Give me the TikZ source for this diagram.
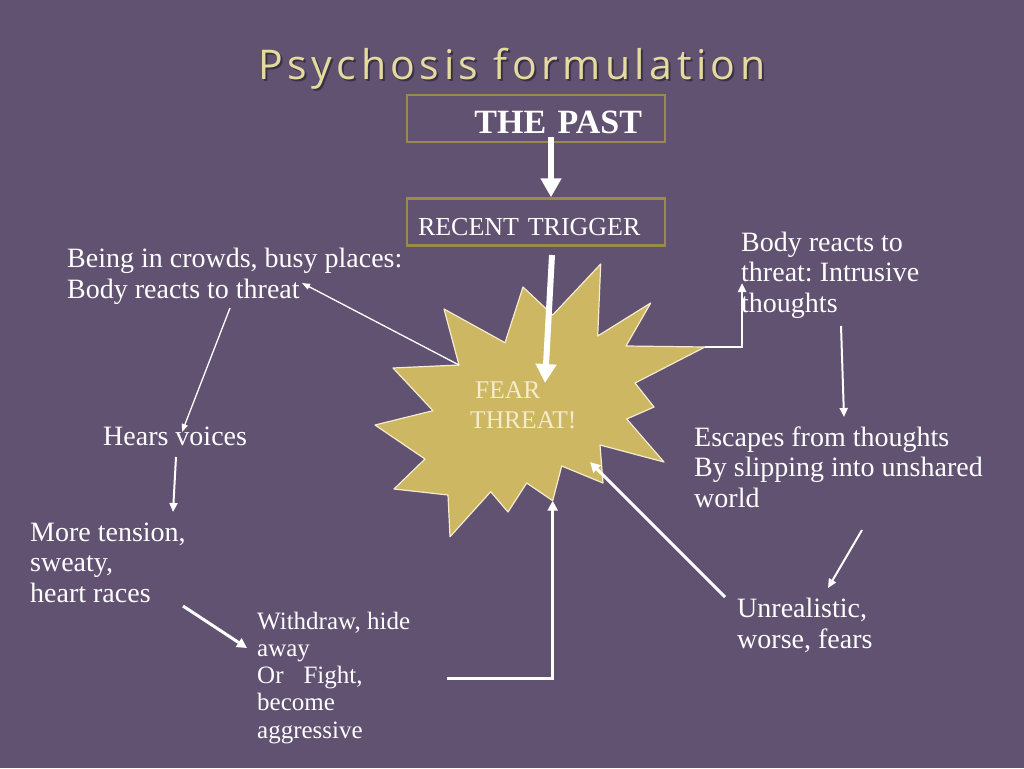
\documentclass[tikz,border=0pt]{standalone}
\usepackage{fontspec}
\setmainfont{Liberation Serif}
\newfontfamily\headfont[LetterSpace=11,RawFeature=-liga]{Open Sans}
\usetikzlibrary{arrows.meta}
\definecolor{plum}{HTML}{615272}
\definecolor{gold}{HTML}{CDB762}
\definecolor{olive}{HTML}{9A8A4E}
\definecolor{straw}{HTML}{E6DB9E}
\definecolor{cream}{HTML}{F4ECCD}
\definecolor{shade}{HTML}{3A3146}
\frenchspacing

\begin{document}
\begin{tikzpicture}[x=1pt,y=-1pt,
  note/.style={anchor=base west,inner sep=0pt,align=left,text=white,font=\fontsize{28}{30.5}\selectfont},
  smallnote/.style={note,font=\fontsize{25}{27.2}\selectfont},
  fearnote/.style={note,text=cream,font=\fontsize{25.5}{30}\selectfont},
  box/.style={draw=olive,line width=2.5pt,minimum width=258pt,minimum height=47pt,text=white,text depth=0pt},
  heading/.style={font=\headfont\fontsize{41}{48}\selectfont},
  heavy/.style={-{Triangle[length=19pt,width=20pt]},line width=6pt,draw=white},
  arrow/.style={-{Triangle[length=9pt,width=8pt]},line width=2pt,draw=white},
  fine/.style={arrow,line width=1.3pt,-{Triangle[length=8pt,width=6pt]}},
  strong/.style={arrow,line width=3pt,-{Triangle[length=10pt,width=10pt]}}
]
\fill[plum] (0,0) rectangle (1024,768);

\node[heading,text=shade] (titleshadow) at (514,71) {Psychosis formulation};
\node[heading,text=straw] (title) at (512,69) {Psychosis formulation};

\node[box,text width=212pt,align=right,text height=30pt,font=\bfseries\fontsize{34}{40}\selectfont] (past) at (536,118.5) {THE PAST};
\node[box,text width=236pt,align=left,text height=26pt,font=\fontsize{26}{30}\selectfont] (trigger) at (536,222) {RECENT TRIGGER};

\draw[draw=cream,fill=gold,line width=1.2pt,line join=round]
  (600.7,264) -- (597.7,336) -- (650.7,303) -- (626,346) -- (705,347) coordinate (tipright)
  -- (635,383) -- (654,407) -- (626.7,419) -- (664,462) -- (600,445) -- (603,483)
  -- (561.7,466) -- (552.7,500.7) coordinate (tipbottom) -- (526.7,483) -- (508,512)
  -- (490.7,491.7) -- (450,536.7) -- (448,495) -- (394,489) -- (425,459) -- (375,425)
  -- (433,410.7) -- (393,368) -- (459,365) coordinate (notchleft) -- (444,309)
  -- (505,342.7) -- (523,287) -- (552.7,315) -- cycle;

\node[fearnote] (fear) at (470,428) {\hspace*{5pt}FEAR\\THREAT!};

\node[note] (crowds) at (67,298) {Being in crowds, busy places:\\Body reacts to threat};
\node[note] (voices) at (103,445) {Hears voices};
\node[note] (tension) at (30,602) {More tension,\\sweaty,\\heart races};
\node[smallnote] (withdraw) at (257,738) {Withdraw, hide\\away\\Or\hspace{0.8em}Fight,\\become\\aggressive};
\node[note] (intrusive) at (741,312) {Body reacts to\\threat: Intrusive\\thoughts};
\node[note] (escapes) at (694,507) {Escapes from thoughts\\By slipping into unshared\\world};
\node[note] (unreal) at (737,648) {Unrealistic,\\worse, fears};

\draw[heavy] ([xshift=15pt,yshift=6pt]past.south) -- ([xshift=15pt]trigger.north);
\draw[heavy] ([shift={(16,33)}]trigger.center) -- ([shift={(75,-45)}]fear.base west);
\draw[fine] (notchleft) -- ([shift={(235,-15)}]crowds.base west);
\draw[fine] ([shift={(163,10)}]crowds.base west) -- ([shift={(79,-13)}]voices.base west);
\draw[arrow] ([shift={(73,12)}]voices.base west) -- ([shift={(143,-90)}]tension.base west);
\draw[strong] ([shift={(153,4)}]tension.base west) -- ([shift={(-10,-90)}]withdraw.base west);
\draw[strong] ([shift={(190,-60)}]withdraw.base west) -| (tipbottom);
\draw[strong] ([shift={(-12,-51)}]unreal.base west) -- ([shift={(120,34)}]fear.base west);
\draw[arrow] ([shift={(168,23)}]escapes.base west) -- ([shift={(91,-60)}]unreal.base west);
\draw[arrow] ([shift={(100,14)}]intrusive.base west) -- ([shift={(150,-90)}]escapes.base west);
\draw[arrow,line width=2.5pt] (tipright) -| ([shift={(1,-29)}]intrusive.base west);
\end{tikzpicture}
\end{document}
